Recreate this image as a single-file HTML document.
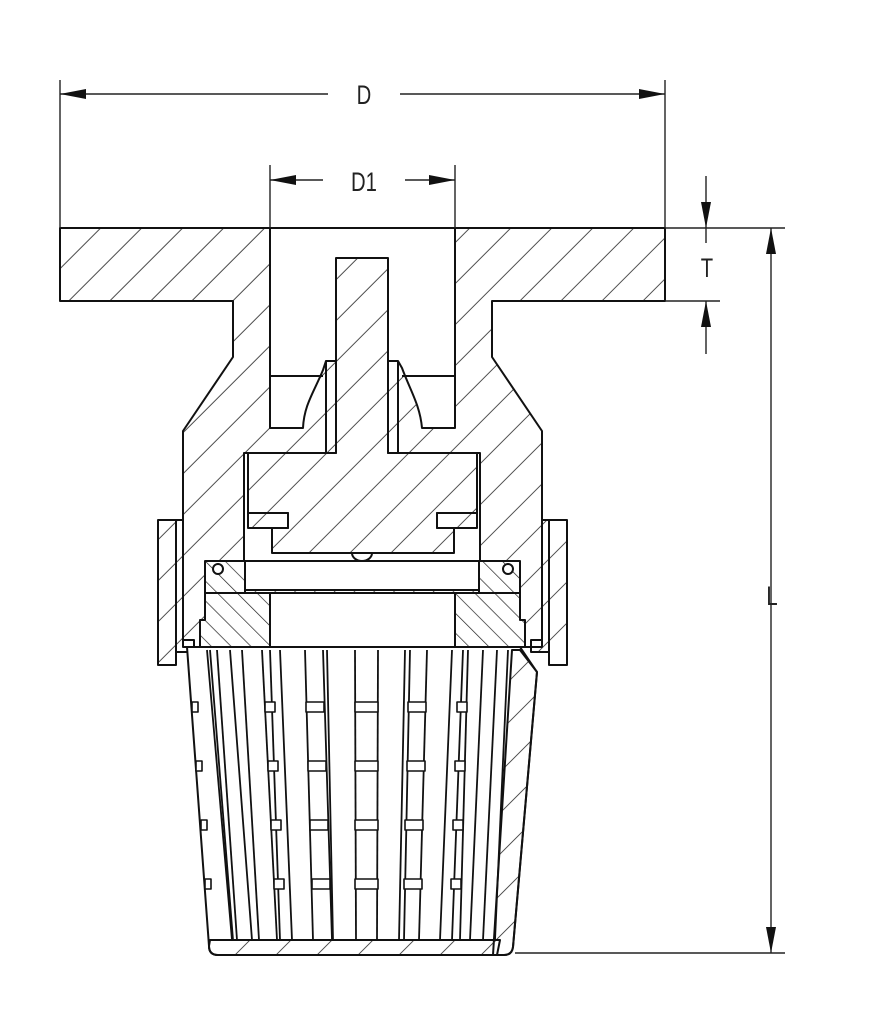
<!DOCTYPE html>
<html><head><meta charset="utf-8"><style>html,body{margin:0;padding:0;background:#fff}svg{display:block}</style></head>
<body>
<svg width="872" height="1024" viewBox="0 0 872 1024" xmlns="http://www.w3.org/2000/svg">
<defs>
<pattern id="h1" patternUnits="userSpaceOnUse" width="29" height="29" patternTransform="rotate(45)">
<line x1="0" y1="0" x2="0" y2="29" stroke="#222" stroke-width="1.6"/>
</pattern>
<pattern id="h2" patternUnits="userSpaceOnUse" width="14" height="14" patternTransform="rotate(-45)">
<line x1="0" y1="0" x2="0" y2="14" stroke="#222" stroke-width="1.4"/>
</pattern>
</defs>
<g fill="none" stroke="#111" stroke-width="2" stroke-linejoin="round">
<!-- body -->
<path fill="url(#h1)" d="M60,228 L665,228 L665,301 L492,301 L492,357 L542,431 L542,647 L183,647 L183,431 L233,357 L233,301 L60,301 Z"/>
<!-- bore -->
<path fill="#fff" d="M270,228 L455,228 L455,428 L422,428 C420,405 410,390 402,368 L398,361 L388,361 L388,453 L480,453 L480,561 L244,561 L244,453 L336,453 L336,361 L326,361 L323,370 C314,392 304,405 303,428 L270,428 Z"/>
<line x1="270" y1="376" x2="323" y2="376"/><line x1="402" y1="376" x2="455" y2="376"/>
<line x1="326" y1="361" x2="326" y2="453"/><line x1="398" y1="361" x2="398" y2="453"/>
<!-- stem and disc -->
<path fill="url(#h1)" d="M336,258 L388,258 L388,453 L477,453 L477,513 L437,513 L437,528 L454,528 L454,553 L272,553 L272,528 L288,528 L288,513 L248,513 L248,453 L336,453 Z"/>
<rect x="248" y="513" width="40" height="15" fill="url(#h1)"/>
<rect x="437" y="513" width="40" height="15" fill="url(#h1)"/>
<path d="M352,553 A10,8 0 0 0 372,553"/>
<!-- union nuts -->
<path fill="url(#h1)" d="M158,520 L183,520 L183,640 L194,640 L194,652 L176,652 L176,665 L158,665 Z"/>
<path fill="url(#h1)" d="M567,520 L542,520 L542,640 L531,640 L531,652 L549,652 L549,665 L567,665 Z"/>
<line x1="176" y1="520" x2="176" y2="652"/><line x1="549" y1="520" x2="549" y2="652"/>
<!-- lower ring -->
<rect x="205" y="561" width="315" height="32" fill="#fff" stroke="none"/>
<rect x="205" y="561" width="315" height="32" fill="url(#h2)"/>
<rect x="245" y="561" width="234" height="29" fill="#fff"/>
<rect x="245" y="590" width="234" height="3"/>
<circle cx="218" cy="569" r="5" fill="#fff"/><circle cx="508" cy="569" r="5" fill="#fff"/>
<path fill="#fff" stroke="none" d="M205,593 L270,593 L270,647 L200,647 L200,620 L205,620 Z"/>
<path fill="url(#h2)" d="M205,593 L270,593 L270,647 L200,647 L200,620 L205,620 Z"/>
<path fill="#fff" stroke="none" d="M455,593 L520,593 L520,620 L525,620 L525,647 L455,647 Z"/>
<path fill="url(#h2)" d="M455,593 L520,593 L520,620 L525,620 L525,647 L455,647 Z"/>
<rect x="270" y="593" width="185" height="54" fill="#fff"/>
<!-- basket -->
<path fill="#fff" d="M187,647 L520,647 L537,672 L513,947 Q512,955 504,955 L218,955 Q209,955 209,946 Z"/>
<path fill="url(#h1)" d="M512,650 L520,650 L537,672 L513,947 Q512,955 504,955 L493,955 Z"/>
<path fill="url(#h1)" d="M210,940 L500,940 L497,955 L218,955 Q209,955 209,946 Z"/>
<g stroke-width="1.8">
<line x1="207" y1="650" x2="232" y2="940"/><line x1="210" y1="650" x2="233" y2="940"/>
<line x1="217" y1="650" x2="237" y2="940"/><line x1="230" y1="650" x2="252" y2="940"/>
<line x1="242" y1="650" x2="259" y2="940"/><line x1="262" y1="650" x2="277" y2="940"/>
<line x1="270" y1="650" x2="280" y2="940"/><line x1="280" y1="650" x2="292" y2="940"/>
<line x1="305" y1="650" x2="313" y2="940"/><line x1="323" y1="650" x2="332" y2="940"/>
<line x1="327" y1="650" x2="333" y2="940"/><line x1="355" y1="650" x2="356" y2="940"/>
<line x1="378" y1="650" x2="377" y2="940"/><line x1="405" y1="650" x2="399" y2="940"/>
<line x1="410" y1="650" x2="404" y2="940"/><line x1="427" y1="650" x2="419" y2="940"/>
<line x1="452" y1="650" x2="440" y2="940"/><line x1="463" y1="650" x2="452" y2="940"/>
<line x1="468" y1="650" x2="460" y2="940"/><line x1="483" y1="650" x2="470" y2="940"/>
<line x1="497" y1="650" x2="483" y2="940"/><line x1="508" y1="650" x2="495" y2="940"/>
</g>
<g fill="#fff" stroke-width="1.6">
<rect x="306" y="702" width="18" height="10"/><rect x="308" y="761" width="18" height="10"/><rect x="310" y="820" width="18" height="10"/><rect x="312" y="879" width="18" height="10"/>
<rect x="355" y="702" width="23" height="10"/><rect x="355" y="761" width="23" height="10"/><rect x="355" y="820" width="23" height="10"/><rect x="355" y="879" width="23" height="10"/>
<rect x="408" y="702" width="18" height="10"/><rect x="407" y="761" width="18" height="10"/><rect x="405" y="820" width="18" height="10"/><rect x="404" y="879" width="18" height="10"/>
<rect x="265" y="702" width="10" height="10"/><rect x="268" y="761" width="10" height="10"/><rect x="271" y="820" width="10" height="10"/><rect x="274" y="879" width="10" height="10"/>
<rect x="457" y="702" width="10" height="10"/><rect x="455" y="761" width="10" height="10"/><rect x="453" y="820" width="10" height="10"/><rect x="451" y="879" width="10" height="10"/>
<rect x="192" y="702" width="6" height="10"/><rect x="196" y="761" width="6" height="10"/><rect x="201" y="820" width="6" height="10"/><rect x="205" y="879" width="6" height="10"/>
</g>
</g>
<!-- dimensions -->
<g stroke="#222" stroke-width="1.4" fill="none">
<line x1="60" y1="80" x2="60" y2="228"/><line x1="665" y1="80" x2="665" y2="228"/>
<line x1="60" y1="94" x2="328" y2="94"/><line x1="400" y1="94" x2="665" y2="94"/>
<line x1="270" y1="165" x2="270" y2="228"/><line x1="455" y1="165" x2="455" y2="228"/>
<line x1="270" y1="180" x2="323" y2="180"/><line x1="405" y1="180" x2="455" y2="180"/>
<line x1="665" y1="228" x2="785" y2="228"/><line x1="665" y1="301" x2="720" y2="301"/>
<line x1="706" y1="176" x2="706" y2="243"/><line x1="706" y1="301" x2="706" y2="354"/>
<line x1="771" y1="228" x2="771" y2="953"/><line x1="515" y1="953" x2="785" y2="953"/>
</g>
<g fill="#111">
<path d="M60,94 L86,89 L86,99 Z"/><path d="M665,94 L639,89 L639,99 Z"/>
<path d="M270,180 L296,175 L296,185 Z"/><path d="M455,180 L429,175 L429,185 Z"/>
<path d="M706,228 L701,202 L711,202 Z"/><path d="M706,301 L701,327 L711,327 Z"/>
<path d="M771,228 L766,254 L776,254 Z"/><path d="M771,953 L766,927 L776,927 Z"/>
</g>
<g font-family="Liberation Sans, sans-serif" font-size="27" fill="#222" text-anchor="middle">
<text x="364" y="104" transform="translate(364,0) scale(0.75,1) translate(-364,0)">D</text>
<text x="364" y="191" transform="translate(364,0) scale(0.75,1) translate(-364,0)">D1</text>
<text x="707" y="277" transform="translate(707,0) scale(0.75,1) translate(-707,0)">T</text>
<text x="772" y="605" transform="translate(772,0) scale(0.75,1) translate(-772,0)">L</text>
</g>
</svg>
</body></html>
